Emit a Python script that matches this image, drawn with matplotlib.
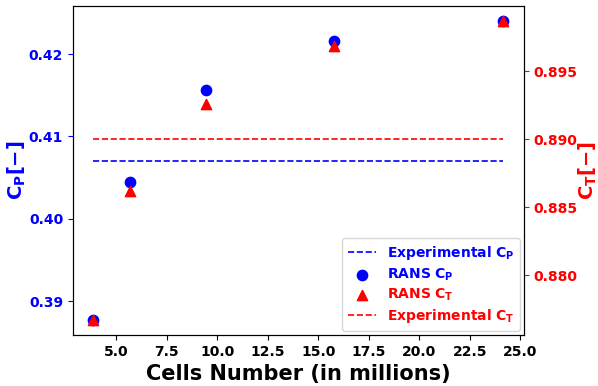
import numpy as np
import matplotlib.pyplot as plt
from matplotlib.ticker import MultipleLocator

# mesh sizes (millions of cells) and RANS results
cells = np.array([3.87, 5.68, 9.42, 15.76, 24.16])
cp_rans = np.array([0.3877, 0.4045, 0.4156, 0.4216, 0.4240])
ct_rans = np.array([0.8767, 0.8862, 0.8926, 0.8969, 0.8987])
cp_exp = 0.407
ct_exp = 0.890

fig, ax1 = plt.subplots(figsize=(5.98, 3.86), dpi=100)
fig.subplots_adjust(left=0.122, right=0.876, top=0.984, bottom=0.132)

l1, = ax1.plot(cells, np.full(len(cells), cp_exp), '--', color='blue', lw=1.2,
               label=r'$\mathbf{Experimental\ C_P}$')
s1 = ax1.scatter(cells, cp_rans, color='blue', marker='o', s=55,
                 label=r'$\mathbf{RANS\ C_P}$')
ax1.set_xlabel('Cells Number (in millions)', fontsize=15, fontweight='bold')
ax1.set_ylabel(r'$\mathbf{C_P [-]}$', fontsize=14, color='blue', labelpad=0.5)
ax1.yaxis.set_major_locator(MultipleLocator(0.01))
ax1.tick_params(axis='y', colors='blue', labelsize=10)
ax1.tick_params(axis='x', labelsize=10)
for t in ax1.get_xticklabels() + ax1.get_yticklabels():
    t.set_fontweight('bold')

ax2 = ax1.twinx()
s2 = ax2.scatter(cells, ct_rans, color='red', marker='^', s=55,
                 label=r'$\mathbf{RANS\ C_T}$')
l2, = ax2.plot(cells, np.full(len(cells), ct_exp), '--', color='red', lw=1.2,
               label=r'$\mathbf{Experimental\ C_T}$')
ax2.set_ylabel(r'$\mathbf{C_T [-]}$', fontsize=14, color='red', labelpad=-1)
ax2.yaxis.set_major_locator(MultipleLocator(0.005))
ax2.tick_params(axis='y', colors='red', labelsize=10)
for t in ax2.get_yticklabels():
    t.set_fontweight('bold')

handles = [l1, s1, s2, l2]
leg = ax2.legend(handles, [h.get_label() for h in handles], loc='lower right',
                 fontsize=10, labelspacing=0.3, borderaxespad=0.3)
for txt, c in zip(leg.get_texts(), ['blue', 'blue', 'red', 'red']):
    txt.set_color(c)

fig.savefig('out.png')
